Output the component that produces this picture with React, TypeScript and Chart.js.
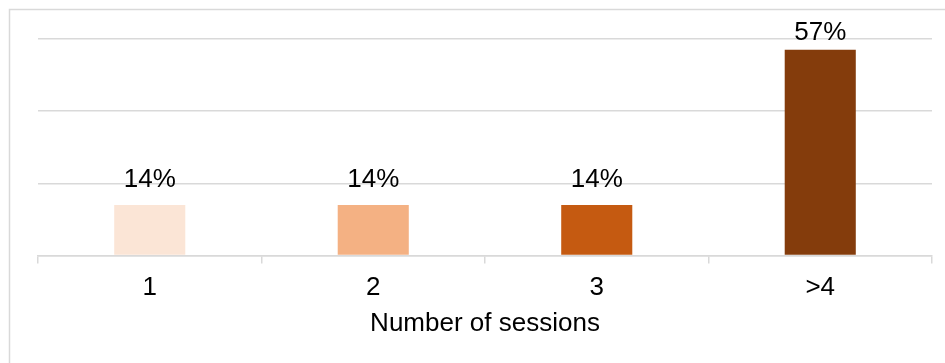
import React, { useEffect, useRef } from "react";
import { Chart, registerables } from "chart.js";

Chart.register(...registerables);

const categories = ["1", "2", "3", ">4"];
const shares = [14, 14, 14, 57];
const barColors = ["#FBE5D6", "#F4B183", "#C55A11", "#843C0C"];
const axisTitle = "Number of sessions";

const FONT = "'Liberation Sans', Arial, sans-serif";
const LINE = "#d9d9d9";

// Light frame along the top and left edges of the figure.
const framePlugin = {
  id: "frame",
  beforeDraw(chart: any) {
    const { ctx, width, height } = chart;
    ctx.save();
    ctx.strokeStyle = LINE;
    ctx.lineWidth = 1.5;
    ctx.beginPath();
    ctx.moveTo(9.5, height);
    ctx.lineTo(9.5, 9.5);
    ctx.lineTo(width, 9.5);
    ctx.stroke();
    ctx.restore();
  },
};

// Percentage labels above each bar, kept inside the plot area.
const valueLabelPlugin = {
  id: "valueLabels",
  afterDatasetsDraw(chart: any) {
    const { ctx, chartArea } = chart;
    const meta = chart.getDatasetMeta(0);
    const data = chart.data.datasets[0].data as number[];
    ctx.save();
    ctx.font = `26px ${FONT}`;
    ctx.fillStyle = "#000";
    ctx.textAlign = "center";
    ctx.textBaseline = "alphabetic";
    meta.data.forEach((bar: any, i: number) => {
      const y = Math.max(bar.y - 18, chartArea.top + 0.5);
      ctx.fillText(`${data[i]}%`, bar.x, y);
    });
    ctx.restore();
  },
};

export default function App() {
  const canvasRef = useRef<HTMLCanvasElement | null>(null);

  useEffect(() => {
    if (!canvasRef.current) return;
    const chart = new Chart(canvasRef.current, {
      type: "bar",
      data: {
        labels: categories,
        datasets: [
          {
            data: shares,
            backgroundColor: barColors,
            borderWidth: 0,
            categoryPercentage: 1,
            barPercentage: 0.318,
          },
        ],
      },
      options: {
        animation: false,
        responsive: false,
        maintainAspectRatio: false,
        layout: { padding: { top: 39, left: 38, right: 13, bottom: 24 } },
        plugins: {
          legend: { display: false },
          tooltip: { enabled: false },
        },
        scales: {
          x: {
            offset: true,
            grid: {
              offset: true,
              drawOnChartArea: false,
              drawTicks: true,
              tickLength: 8,
              color: LINE,
              lineWidth: 1.5,
            },
            border: { display: true, color: LINE, width: 1.5 },
            ticks: {
              color: "#000",
              font: { family: FONT, size: 26 },
              padding: 9,
              maxRotation: 0,
            },
            title: {
              display: true,
              text: axisTitle,
              color: "#000",
              font: { family: FONT, size: 26 },
              padding: { top: -5, bottom: 0 },
            },
          },
          y: {
            min: 0,
            max: 60,
            ticks: { display: false, stepSize: 20 },
            grid: { drawTicks: false, color: LINE, lineWidth: 1.5 },
            border: { display: false },
          },
        },
      },
      plugins: [framePlugin, valueLabelPlugin],
    });
    return () => chart.destroy();
  }, []);

  return (
    <canvas
      ref={canvasRef}
      width={945}
      height={363}
      style={{ position: "fixed", left: 0, top: 0, width: 945, height: 363, background: "#fff" }}
    />
  );
}
